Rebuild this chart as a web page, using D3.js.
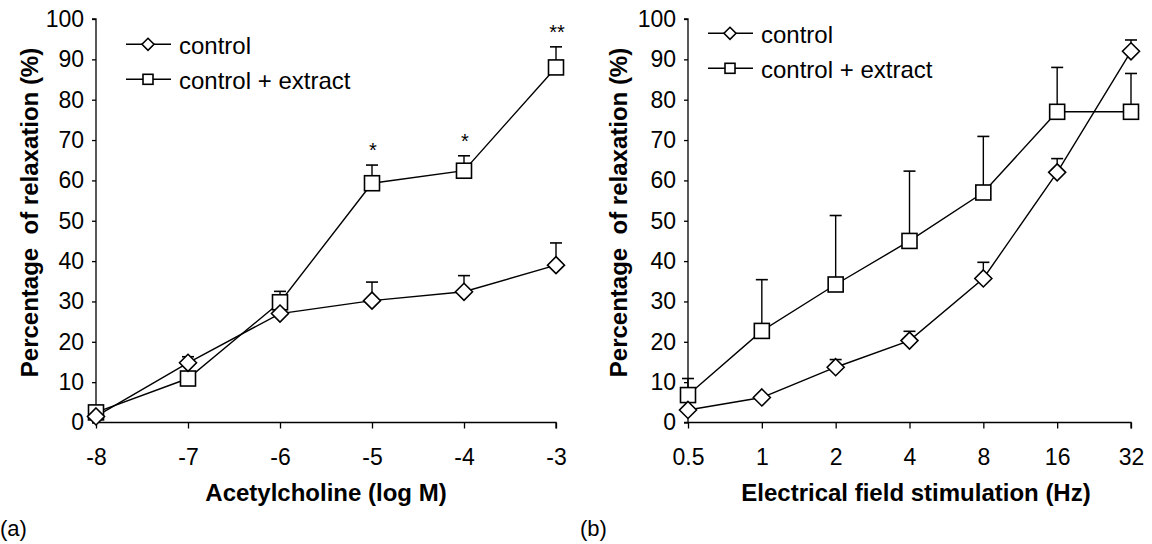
<!DOCTYPE html>
<html>
<head>
<meta charset="utf-8">
<title>relaxation</title>
<script src="https://cdn.jsdelivr.net/npm/d3@7"></script>
<style>
body{margin:0;background:#fff;}
svg text{font-family:"Liberation Sans",Arial,sans-serif;fill:#000;}
.tick text{font-size:23px;}
.axis path,.axis line{stroke:#000;stroke-width:1.3px;}
</style>
</head>
<body>
<script>
// panel (a): acetylcholine
var achDose = [-8, -7, -6, -5, -4, -3];
var achControl = [1.5, 14.8, 27.0, 30.2, 32.4, 39.0];
var achControlErr = [2.0, 16.3, 27.5, 34.8, 36.4, 44.5];
var achExtract = [2.5, 10.9, 29.8, 59.3, 62.4, 88.0];
var achExtractErr = [2.8, 11.2, 32.5, 63.8, 66.1, 93.1];
var achStars = ["", "", "", "*", "*", "**"];

// panel (b): electrical field stimulation
var efsFreq = ["0.5", "1", "2", "4", "8", "16", "32"];
var efsControl = [3.1, 6.2, 13.7, 20.3, 35.7, 62.0, 92.0];
var efsControlErr = [3.6, 6.6, 15.6, 22.6, 39.7, 65.4, 94.8];
var efsExtract = [6.8, 22.7, 34.2, 45.0, 57.0, 77.0, 77.0];
var efsExtractErr = [10.9, 35.4, 51.3, 62.3, 70.9, 88.0, 86.5];

var yTicks = [0, 10, 20, 30, 40, 50, 60, 70, 80, 90, 100];
var legendNames = ["control", "control + extract"];

var W = 1152, H = 544;
var svg = d3.select("body").append("svg").attr("width", W).attr("height", H);

var y = d3.scaleLinear().domain([0, 100]).range([422.5, 19]);

function diamond(g, cx, cy, r) {
  g.append("path")
    .attr("d", "M" + cx + "," + (cy - r) + "L" + (cx + r) + "," + cy + "L" + cx + "," + (cy + r) + "L" + (cx - r) + "," + cy + "Z")
    .attr("fill", "#fff").attr("stroke", "#000").attr("stroke-width", 1.6);
}
function square(g, cx, cy, r) {
  g.append("rect").attr("x", cx - r).attr("y", cy - r).attr("width", 2 * r).attr("height", 2 * r)
    .attr("fill", "#fff").attr("stroke", "#000").attr("stroke-width", 1.6);
}

function panel(opt) {
  var g = svg.append("g");
  var x = opt.x;
  var x0 = opt.range[0];

  g.append("g").attr("class", "axis")
    .attr("transform", "translate(" + x0 + ",0)")
    .call(d3.axisLeft(y).tickValues(yTicks).tickSize(4).tickSizeOuter(4).tickPadding(8))
    .select(".domain").attr("d", "M-4," + y(100) + "H0V" + y(0));

  var xa = g.append("g").attr("class", "axis")
    .attr("transform", "translate(0," + y(0) + ")")
    .call(opt.xAxis.tickSize(6).tickSizeOuter(0).tickPadding(20));
  xa.select(".domain").attr("d", "M" + (x0 - 4) + ",0H" + opt.range[1] + "V6");

  // y title
  g.append("text")
    .attr("transform", "translate(" + opt.yTitleX + ",212.5) rotate(-90)")
    .attr("text-anchor", "middle")
    .style("font-size", "24px").style("font-weight", "bold")
    .text("Percentage\u00a0 of relaxation (%)");

  g.append("text")
    .attr("x", opt.xTitleX).attr("y", 501)
    .attr("text-anchor", "middle")
    .style("font-size", "24px").style("font-weight", "bold")
    .text(opt.xTitle);

  g.append("text").attr("x", opt.tagX).attr("y", 536)
    .style("font-size", "22px").text(opt.tag);

  var line = d3.line().x(function (d) { return x(d[0]); }).y(function (d) { return y(d[1]); });

  var series = [
    {v: opt.extract, e: opt.extractErr, m: square},
    {v: opt.control, e: opt.controlErr, m: diamond}
  ];
  series.forEach(function (s) {
    var pts = opt.keys.map(function (k, i) { return [k, s.v[i]]; });
    g.append("path").attr("d", line(pts)).attr("fill", "none").attr("stroke", "#000").attr("stroke-width", 1.4);
    opt.keys.forEach(function (k, i) {
      var cx = x(k);
      g.append("line").attr("x1", cx).attr("x2", cx).attr("y1", y(s.v[i])).attr("y2", y(s.e[i]))
        .attr("stroke", "#000").attr("stroke-width", 1.4);
      g.append("line").attr("x1", cx - 6).attr("x2", cx + 6).attr("y1", y(s.e[i])).attr("y2", y(s.e[i]))
        .attr("stroke", "#000").attr("stroke-width", 1.6);
    });
  });
  series.forEach(function (s) {
    opt.keys.forEach(function (k, i) {
      s.m(g, x(k), y(s.v[i]), s.m === square ? 7.5 : 8.5);
    });
  });

  if (opt.stars) {
    opt.keys.forEach(function (k, i) {
      if (!opt.stars[i]) return;
      g.append("text").attr("x", x(k) + 1).attr("y", y(opt.extractErr[i]) - 8)
        .attr("text-anchor", "middle").style("font-size", "20px").text(opt.stars[i]);
    });
  }

  // legend
  var lx = opt.legend[0], ly = opt.legend[1], gap = 35;
  legendNames.forEach(function (name, i) {
    var yy = ly + i * gap;
    g.append("line").attr("x1", lx).attr("x2", lx + 45).attr("y1", yy).attr("y2", yy)
      .attr("stroke", "#000").attr("stroke-width", 1.4);
    if (i === 0) diamond(g, lx + 22, yy, 6); else square(g, lx + 22, yy, 5);
    g.append("text").attr("x", lx + 53).attr("y", yy + 10)
      .style("font-size", "24px").text(name);
  });
}

var xa = d3.scaleLinear().domain([-8, -3]).range([96, 556]);
panel({
  x: xa, range: [96, 556], keys: achDose,
  xAxis: d3.axisBottom(xa).tickValues(achDose).tickFormat(function (d) { return String(d); }),
  control: achControl, controlErr: achControlErr,
  extract: achExtract, extractErr: achExtractErr,
  stars: achStars,
  yTitleX: 38, xTitle: "Acetylcholine (log M)", xTitleX: 326,
  tag: "(a)", tagX: 0, legend: [126, 44.3]
});

var xb = d3.scalePoint().domain(efsFreq).range([688, 1131]);
panel({
  x: xb, range: [688, 1131], keys: efsFreq,
  xAxis: d3.axisBottom(xb),
  control: efsControl, controlErr: efsControlErr,
  extract: efsExtract, extractErr: efsExtractErr,
  yTitleX: 627, xTitle: "Electrical field stimulation (Hz)", xTitleX: 916,
  tag: "(b)", tagX: 580, legend: [708, 33.3]
});
</script>
</body>
</html>
